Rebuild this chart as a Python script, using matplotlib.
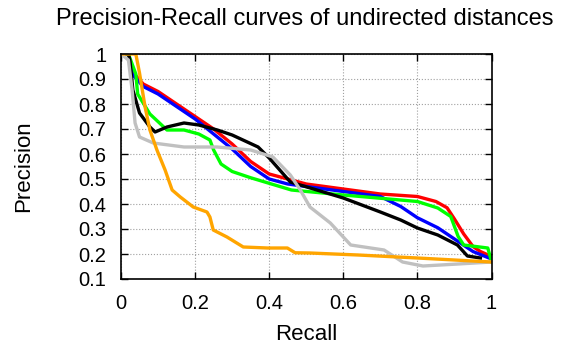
import matplotlib
matplotlib.use("Agg")
import matplotlib.pyplot as plt

# curves (recall, precision)
red_r = [0.0, 0.02, 0.03, 0.06, 0.10, 0.15, 0.20, 0.25, 0.30, 0.35, 0.40, 0.45, 0.50, 0.60, 0.70, 0.80, 0.85, 0.88, 0.90, 0.925, 0.95, 0.97, 1.0]
red_p = [1.0, 1.0, 0.93, 0.88, 0.85, 0.80, 0.75, 0.70, 0.64, 0.57, 0.52, 0.50, 0.48, 0.46, 0.44, 0.43, 0.41, 0.385, 0.34, 0.28, 0.23, 0.21, 0.19]

blue_r = [0.0, 0.02, 0.03, 0.06, 0.10, 0.15, 0.20, 0.25, 0.30, 0.35, 0.40, 0.45, 0.50, 0.60, 0.70, 0.755, 0.80, 0.855, 0.91, 0.95, 1.0]
blue_p = [1.0, 1.0, 0.92, 0.87, 0.84, 0.79, 0.74, 0.68, 0.62, 0.55, 0.50, 0.48, 0.47, 0.45, 0.43, 0.39, 0.345, 0.305, 0.25, 0.21, 0.18]

green_r = [0.0, 0.02, 0.04, 0.045, 0.078, 0.124, 0.17, 0.21, 0.24, 0.25, 0.27, 0.30, 0.35, 0.46, 0.60, 0.80, 0.855, 0.89, 0.91, 0.925, 0.99, 1.0]
green_p = [1.0, 1.0, 0.92, 0.84, 0.76, 0.696, 0.696, 0.68, 0.656, 0.616, 0.56, 0.53, 0.505, 0.456, 0.436, 0.41, 0.384, 0.35, 0.27, 0.236, 0.224, 0.17]

black_r = [0.0, 0.02, 0.024, 0.032, 0.05, 0.078, 0.092, 0.124, 0.17, 0.21, 0.26, 0.30, 0.37, 0.40, 0.457, 0.60, 0.70, 0.755, 0.80, 0.855, 0.908, 0.935, 0.97]
black_p = [1.0, 1.0, 0.976, 0.856, 0.764, 0.708, 0.688, 0.708, 0.724, 0.716, 0.696, 0.676, 0.628, 0.584, 0.488, 0.424, 0.368, 0.336, 0.304, 0.276, 0.236, 0.192, 0.184]

gray_r = [0.0, 0.02, 0.03, 0.038, 0.05, 0.087, 0.17, 0.26, 0.35, 0.41, 0.457, 0.484, 0.51, 0.565, 0.62, 0.71, 0.76, 0.815, 0.91, 1.0]
gray_p = [1.0, 0.976, 0.856, 0.724, 0.668, 0.644, 0.628, 0.628, 0.616, 0.588, 0.516, 0.456, 0.388, 0.324, 0.236, 0.216, 0.168, 0.152, 0.16, 0.168]

orange_r = [0.0, 0.04, 0.05, 0.065, 0.078, 0.097, 0.119, 0.138, 0.16, 0.195, 0.232, 0.24, 0.249, 0.286, 0.33, 0.395, 0.449, 0.47, 0.51, 0.64, 0.80, 1.0]
orange_p = [1.0, 1.0, 0.924, 0.788, 0.696, 0.616, 0.536, 0.456, 0.428, 0.388, 0.368, 0.348, 0.296, 0.268, 0.228, 0.224, 0.224, 0.205, 0.204, 0.196, 0.184, 0.168]

x_ticks = [0, 0.2, 0.4, 0.6, 0.8, 1]
y_ticks = [0.1, 0.2, 0.3, 0.4, 0.5, 0.6, 0.7, 0.8, 0.9, 1]

plt.rcParams["font.family"] = ["Liberation Sans", "DejaVu Sans"]

W, H = 564, 352
fig = plt.figure(figsize=(W / 100, H / 100), dpi=100)
ax = fig.add_axes([121 / W, 1 - 279 / H, 370.5 / W, 225 / H])

for r, p, c in [(red_r, red_p, "#ff0000"), (blue_r, blue_p, "#0000ff"),
                (green_r, green_p, "#00ff00"), (black_r, black_p, "#000000"),
                (gray_r, gray_p, "#c0c0c0"), (orange_r, orange_p, "#ffa500")]:
    ax.plot(r, p, color=c, lw=2.4, solid_joinstyle="round")

ax.set_xlim(0, 1)
ax.set_ylim(0.1, 1)
ax.set_xticks(x_ticks)
ax.set_xticklabels([f"{v:g}" for v in x_ticks])
ax.set_yticks(y_ticks)
ax.set_yticklabels([f"{v:g}" for v in y_ticks])
ax.tick_params(direction="in", top=True, right=True, length=5, width=1,
               labelsize=14.5)
ax.tick_params(axis="y", pad=10.5)
ax.tick_params(axis="x", pad=10.5)
ax.grid(color="#a0a0a0", ls=":", lw=0.8)
for s in ax.spines.values():
    s.set_linewidth(1.2)

fig.text(306 / W, 1 - 334 / H, "Recall", fontsize=16, ha="center", va="center")
fig.text(24 / W, 1 - 166 / H, "Precision", fontsize=16, rotation=90,
         ha="center", va="center")
fig.text(305 / W, 1 - 19 / H, "Precision-Recall curves of undirected distances",
         fontsize=17, ha="center", va="center")

fig.savefig("out.png", dpi=100)
